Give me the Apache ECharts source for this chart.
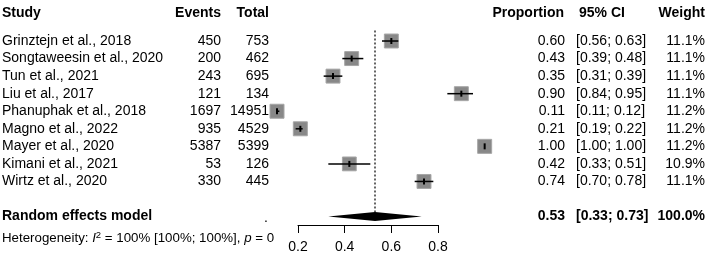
<!DOCTYPE html>
<html><head><meta charset="utf-8">
<script src="https://cdn.jsdelivr.net/npm/echarts@6/dist/echarts.min.js"></script>
<style>html,body{margin:0;padding:0;background:#fff}#c{width:707px;height:257px}</style>
</head><body><div id="c"></div>
<script>
const studies = ["Grinztejn et al., 2018","Songtaweesin et al., 2020","Tun et al., 2021","Liu et al., 2017","Phanuphak et al., 2018","Magno et al., 2022","Mayer et al., 2020","Kimani et al., 2021","Wirtz et al., 2020"];
const events = [450,200,243,121,1697,935,5387,53,330];
const totals = [753,462,695,134,14951,4529,5399,126,445];
const props = [0.60,0.43,0.35,0.90,0.11,0.21,1.00,0.42,0.74];
const ciLow = [0.56,0.39,0.31,0.84,0.11,0.19,1.00,0.33,0.70];
const ciHigh = [0.63,0.48,0.39,0.95,0.12,0.22,1.00,0.51,0.78];
const weights = [11.1,11.1,11.1,11.1,11.2,11.2,11.2,10.9,11.1];
const pooled = {est:0.53, lo:0.33, hi:0.73, weight:"100.0%", label:"Random effects model"};
const headers = ["Study","Events","Total","Proportion","95% CI","Weight"];
const xTicks = [0.2,0.4,0.6,0.8];
const heterogeneity = "Heterogeneity: {i|I}{s|2} = 100% [100%; 100%], {i|p} = 0";

const FONT = '"Liberation Sans", Arial, sans-serif';
const SUMMARY_ROW = studies.length + 1;
const HEADER_ROW = -1.57;
const HET_ROW = 11.25;

function txt(x, y, text, align, extra) {
  return {type:'text', x:x, y:y, silent:true,
    style:Object.assign({text:text, fill:'#000', fontSize:14, fontFamily:FONT,
      align:align, textAlign:align, verticalAlign:'middle', textVerticalAlign:'middle'}, extra||{})};
}
const COL = {study:2, events:221, total:269, prop:565, ci:576, weight:705};

const rows = studies.map((s,i)=>[props[i], i, ciLow[i], ciHigh[i], weights[i]]);
const textRows = studies.map((s,i)=>[0.5, i]);

const chart = echarts.init(document.getElementById('c'));
chart.setOption({
  animation:false,
  grid:{left:298, right:269, top:5.9, bottom:32},
  xAxis:{type:'value', position:'bottom', min:xTicks[0], max:xTicks[xTicks.length-1], interval:0.2,
    axisLine:{onZero:false, lineStyle:{color:'#000', width:1}},
    axisTick:{length:8, lineStyle:{color:'#000', width:1}},
    axisLabel:{fontSize:14, color:'#000', fontFamily:FONT, margin:15, formatter:v=>v.toFixed(1)},
    splitLine:{show:false}},
  yAxis:{type:'value', min:-2, max:10.48, inverse:true, show:false},
  series:[
    {type:'custom', clip:false, silent:true, z:1,
      data:[[pooled.est, -0.6, pooled.est, SUMMARY_ROW]],
      renderItem:(p, api)=>{
        const a = api.coord([api.value(0), api.value(1)]);
        const b = api.coord([api.value(2), api.value(3)]);
        return {type:'line', shape:{x1:a[0], y1:a[1], x2:b[0], y2:b[1]},
          style:{stroke:'#000', lineWidth:1.2, lineDash:[2,2]}};
      }},
    {type:'custom', clip:false, silent:true, z:2, data:rows,
      renderItem:(p, api)=>{
        const c = api.coord([api.value(0), api.value(1)]);
        const lo = api.coord([api.value(2), api.value(1)]);
        const hi = api.coord([api.value(3), api.value(1)]);
        const s = 14*Math.sqrt(api.value(4)/11.2);
        return {type:'group', children:[
          {type:'rect', shape:{x:c[0]-s/2, y:c[1]-s/2, width:s, height:s},
            style:{fill:'#888888', stroke:'#a6a6a6', lineWidth:1}},
          {type:'line', shape:{x1:lo[0], y1:c[1], x2:hi[0], y2:c[1]},
            style:{stroke:'#000', lineWidth:1.5}},
          {type:'rect', shape:{x:c[0]-1, y:c[1]-3, width:2, height:6}, style:{fill:'#000'}}
        ]};
      }},
    {type:'custom', clip:false, silent:true, z:3,
      data:[[pooled.lo, pooled.est, pooled.hi, SUMMARY_ROW]],
      renderItem:(p, api)=>{
        const l = api.coord([api.value(0), api.value(3)]);
        const m = api.coord([api.value(1), api.value(3)]);
        const r = api.coord([api.value(2), api.value(3)]);
        const h = 4.5;
        return {type:'polygon', shape:{points:[[l[0],l[1]],[m[0],m[1]-h],[r[0],r[1]],[m[0],m[1]+h]]},
          style:{fill:'#000'}};
      }},
    {type:'custom', clip:false, silent:true, z:4, data:textRows,
      renderItem:(p, api)=>{
        const i = p.dataIndex;
        const y = api.coord([0.5, api.value(1)])[1];
        return {type:'group', children:[
          txt(COL.study, y, studies[i], 'left'),
          txt(COL.events, y, String(events[i]), 'right'),
          txt(COL.total, y, String(totals[i]), 'right'),
          txt(COL.prop, y, props[i].toFixed(2), 'right'),
          txt(COL.ci, y, '['+ciLow[i].toFixed(2)+'; '+ciHigh[i].toFixed(2)+']', 'left'),
          txt(COL.weight, y, weights[i].toFixed(1)+'%', 'right')
        ]};
      }},
    {type:'custom', clip:false, silent:true, z:4, data:[[0.5, HEADER_ROW, SUMMARY_ROW, HET_ROW]],
      renderItem:(p, api)=>{
        const yh = api.coord([0.5, api.value(1)])[1];
        const ys = api.coord([0.5, api.value(2)])[1];
        const yt = api.coord([0.5, api.value(3)])[1];
        const B = {fontWeight:'bold'};
        return {type:'group', children:[
          txt(COL.study, yh, headers[0], 'left', B),
          txt(COL.events, yh, headers[1], 'right', B),
          txt(COL.total, yh, headers[2], 'right', B),
          txt(COL.prop-1, yh, headers[3], 'right', B),
          txt(COL.ci+3, yh, headers[4], 'left', B),
          txt(COL.weight, yh, headers[5], 'right', B),
          txt(COL.study, ys, pooled.label, 'left', B),
          txt(COL.total-1, ys+2, '.', 'right'),
          txt(COL.prop, ys, pooled.est.toFixed(2), 'right', B),
          txt(COL.ci, ys, '['+pooled.lo.toFixed(2)+'; '+pooled.hi.toFixed(2)+']', 'left', B),
          txt(COL.weight, ys, pooled.weight, 'right', B),
          txt(COL.study, yt, heterogeneity, 'left', {fontSize:13.3,
            rich:{i:{fontStyle:'italic', fontSize:13.3, fontFamily:FONT, fill:'#000', color:'#000'},
                  s:{fontSize:9.5, fontFamily:FONT, verticalAlign:'top', fill:'#000', color:'#000', padding:[0,0,6,0]}}})
        ]};
      }}
  ]
});
</script>
</body></html>
